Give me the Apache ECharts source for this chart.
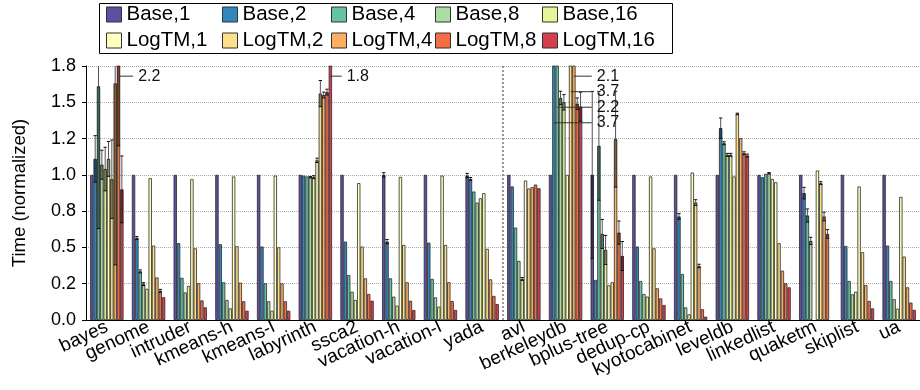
<!DOCTYPE html>
<html><head><meta charset="utf-8">
<script src="https://cdn.jsdelivr.net/npm/echarts@6/dist/echarts.min.js"></script>
<style>html,body{margin:0;padding:0;background:#fff}#c{width:920px;height:390px}</style>
</head><body><div id="c"></div>
<script>
const categories = ['bayes','genome','intruder','kmeans-h','kmeans-l','labyrinth','ssca2','vacation-h','vacation-l','yada','avl','berkeleydb','bplus-tree','dedup-cp','kyotocabinet','leveldb','linkedlist','quaketm','skiplist','ua'];
const seriesNames = ['Base,1','Base,2','Base,4','Base,8','Base,16','LogTM,1','LogTM,2','LogTM,4','LogTM,8','LogTM,16'];

const base1   = [1.0,1.0,1.0,1.0,1.0,1.0,1.0,1.0,1.0,0.995,1.0,1.0,1.0,1.0,1.0,1.0,1.0,1.0,1.0,1.0];
const base2   = [1.11,0.565,0.53,0.522,0.506,0.995,0.54,0.54,0.533,0.972,0.92,3.7,0.276,0.506,0.713,1.322,0.984,0.874,0.51,0.513];
const base4   = [1.61,0.335,0.291,0.26,0.253,0.989,0.31,0.287,0.283,0.885,0.637,2.2,1.2,0.269,0.317,1.218,1.007,0.72,0.269,0.269];
const base8   = [1.07,0.247,0.19,0.138,0.129,0.984,0.195,0.161,0.156,0.809,0.407,1.53,0.593,0.179,0.087,1.138,1.011,0.545,0.177,0.143];
const base16  = [1.04,0.215,0.235,0.08,0.064,0.984,0.138,0.099,0.092,0.839,0.283,1.50,0.483,0.161,0.039,1.138,0.972,null,0.195,0.078];
const logtm1  = [1.11,0.977,0.97,0.989,0.995,1.10,0.943,0.986,0.995,0.874,0.961,1.0,0.239,0.989,1.016,0.989,0.949,1.03,0.92,0.848];
const logtm2  = [0.97,0.513,0.494,0.508,0.501,1.56,0.506,0.517,0.517,0.49,0.906,3.7,0.26,0.494,0.809,1.42,0.529,0.943,0.467,0.437];
const logtm4  = [1.63,0.293,0.253,0.257,0.253,1.55,0.287,0.26,0.26,0.28,0.915,2.1,1.246,0.218,0.372,1.253,0.34,0.713,0.241,0.225];
const logtm8  = [2.2,0.201,0.135,0.129,0.129,1.57,0.179,0.133,0.131,0.166,0.933,1.49,0.602,0.149,0.074,1.149,0.253,0.593,0.131,0.12];
const logtm16 = [0.90,0.157,0.087,0.064,0.064,1.8,0.133,0.069,0.069,0.11,0.908,1.47,0.441,0.103,0.023,1.133,0.225,null,0.08,0.07];

const base1Err   = [0,0,0,0,0,0,0,0.015,0,0.015,0,0,0.575,0,0,0,0,0,0,0];
const base2Err   = [0.16,0.01,0,0,0,0,0,0.015,0,0.01,0,0,0,0,0.02,0.07,0,0.04,0,0];
const base4Err   = [0.98,0.01,0,0,0,0,0,0,0,0,0,0,0.375,0,0,0.01,0,0.045,0,0];
const base8Err   = [0.1,0.01,0,0,0,0.005,0,0,0,0,0,0.046,0.1,0,0,0.01,0.005,0.025,0,0];
const base16Err  = [0.15,0,0,0,0,0.01,0,0,0,0,0.01,0.053,0.1,0,0,0.01,0,0,0,0];
const logtm1Err  = [0.12,0,0,0,0,0.015,0,0,0,0,0,0,0,0,0,0,0,0,0,0];
const logtm2Err  = [0.27,0,0,0,0,0.09,0,0,0,0,0,0,0,0,0.02,0.005,0,0.01,0,0];
const logtm4Err  = [1.25,0,0,0,0,0.02,0,0,0,0,0,0,0.33,0,0.012,0,0,0.03,0,0];
const logtm8Err  = [1.0,0.01,0,0,0,0.02,0,0,0,0,0,0.04,0.08,0,0,0.01,0,0.03,0,0];
const logtm16Err = [0.23,0,0,0,0,0,0,0,0,0,0,0.1,0.1,0,0,0.01,0,0,0,0];

const yTickLabels = ['0.0','0.2','0.5','0.8','1.0','1.2','1.5','1.8'];
const separatorBetween = [9, 10];

const values = [base1,base2,base4,base8,base16,logtm1,logtm2,logtm4,logtm8,logtm16];
const errors = [base1Err,base2Err,base4Err,base8Err,base16Err,logtm1Err,logtm2Err,logtm4Err,logtm8Err,logtm16Err];
const colors = ['#5e4fa2','#3288bd','#66c2a5','#abdda4','#e6f598','#ffffbf','#fee08b','#fdae61','#f46d43','#d53e4f'];
const YMAX = 1.75, YINT = 0.25;
const FONT = "'Liberation Sans', Arial, Helvetica, sans-serif";
const legendColumnsX = [106, 222, 331, 435, 542];

const chart = echarts.init(document.getElementById('c'), null, {renderer: 'canvas'});

function barPos(api, c, s) {
  const band = api.size([1, 0])[0];
  const w = band * 0.8 / 10;
  const cx = api.coord([c, 0])[0];
  return {x: cx + (s - 4.5) * w, w: w, band: band, cx: cx};
}

const barSeries = seriesNames.map((name, i) => ({
  name: name, type: 'bar', data: values[i],
  barGap: '0%', barCategoryGap: '20%',
  itemStyle: {color: colors[i], borderColor: '#2a2a2a', borderWidth: 0.8},
  emphasis: {disabled: true}, z: 2
}));

const errData = [];
errors.forEach((arr, s) => arr.forEach((e, c) => {
  if (e > 0 && values[s][c] != null) errData.push([c, values[s][c], s, e]);
}));

const annData = [];
categories.forEach((cat, c) => {
  const clipped = [];
  values.forEach((arr, s) => { if (arr[c] != null && arr[c] > YMAX) clipped.push(s); });
  clipped.forEach((s, k) => annData.push([c, values[s][c], s, clipped.length - 1 - k]));
});

const errSeries = {
  type: 'custom', data: errData, z: 5, silent: true,
  encode: {x: 0, y: 1},
  renderItem: function (params, api) {
    const c = api.value(0), v = api.value(1), s = api.value(2), e = api.value(3);
    const p = barPos(api, c, s);
    const top = Math.min(v, YMAX);
    const hi = Math.min(v + e, YMAX);
    const lo = Math.max(v - e, 0);
    const yTop = api.coord([c, top])[1], yHi = api.coord([c, hi])[1], yLo = api.coord([c, lo])[1];
    const ch = [];
    if (lo < top) ch.push({type: 'rect', shape: {x: p.x - p.w * 0.4, y: yTop, width: p.w * 0.8, height: yLo - yTop}, style: {fill: 'rgba(0,0,0,0.45)'}});
    if (hi > top) ch.push({type: 'line', shape: {x1: p.x, y1: yHi, x2: p.x, y2: yTop}, style: {stroke: 'rgba(40,40,40,0.8)', lineWidth: 1}});
    if (v + e <= YMAX) ch.push({type: 'line', shape: {x1: p.x - p.w / 2, y1: yHi, x2: p.x + p.w / 2, y2: yHi}, style: {stroke: '#111', lineWidth: 1}});
    ch.push({type: 'line', shape: {x1: p.x - p.w / 2, y1: yLo, x2: p.x + p.w / 2, y2: yLo}, style: {stroke: '#111', lineWidth: 1}});
    return {type: 'group', children: ch};
  }
};

const annSeries = {
  type: 'custom', data: annData, z: 6, silent: true,
  encode: {x: 0, y: 1},
  renderItem: function (params, api) {
    const c = api.value(0), v = api.value(1), s = api.value(2), k = api.value(3);
    const p = barPos(api, c, s);
    const tx = p.cx + p.band * 0.75;
    const y = api.coord([c, YMAX - 0.07 - k * 0.107])[1];
    return {type: 'group', children: [
      {type: 'line', shape: {x1: p.x, y1: y, x2: tx - 5, y2: y}, style: {stroke: '#333', lineWidth: 1}},
      {type: 'text', x: tx, y: y, style: {text: v.toFixed(1), fontSize: 16, fontFamily: FONT, fill: '#111', align: 'left', verticalAlign: 'middle'}}
    ]};
  }
};

const sepSeries = {
  type: 'custom', data: [[separatorBetween[0], 0, separatorBetween[1]]], z: 1, silent: true,
  encode: {x: 0, y: 1},
  renderItem: function (params, api) {
    const x = (api.coord([api.value(0), 0])[0] + api.coord([api.value(2), 0])[0]) / 2;
    const y0 = api.coord([0, 0])[1], y1 = api.coord([0, YMAX])[1];
    return {type: 'line', shape: {x1: x, y1: y0, x2: x, y2: y1}, style: {stroke: '#777', lineWidth: 1.5, lineDash: [2, 2]}};
  }
};

const legends = legendColumnsX.map((lx, i) => ({
  data: [seriesNames[i], seriesNames[i + 5]],
  orient: 'vertical', left: lx, top: 4, padding: 0,
  itemWidth: 15, itemHeight: 15, itemGap: 5,
  icon: 'rect', selectedMode: false,
  itemStyle: {borderColor: '#333', borderWidth: 1},
  textStyle: {fontSize: 20.5, fontFamily: FONT, color: '#000', lineHeight: 20}
}));

chart.setOption({
  animation: false,
  textStyle: {fontFamily: FONT},
  grid: {left: 86, right: -12, top: 66, bottom: 70, containLabel: false},
  graphic: [{type: 'rect', left: 99, top: 3, shape: {x: 0, y: 0, width: 573, height: 50}, style: {fill: '#fff', stroke: '#000', lineWidth: 1}, z: 0, silent: true}],
  legend: legends,
  xAxis: {
    type: 'category', data: categories,
    axisLine: {lineStyle: {color: '#000', width: 1}},
    axisTick: {alignWithLabel: true, length: 8, lineStyle: {color: '#888'}},
    axisLabel: {interval: 0, rotate: 25, fontSize: 19, color: '#000', margin: 6, fontFamily: FONT},
    splitLine: {show: false}
  },
  yAxis: {
    type: 'value', min: 0, max: YMAX, interval: YINT,
    name: 'Time (normalized)', nameLocation: 'middle', nameGap: 57,
    nameTextStyle: {fontSize: 18.5, color: '#000', fontFamily: FONT},
    axisLine: {show: true, lineStyle: {color: '#000', width: 1}},
    axisTick: {show: true, length: 4, lineStyle: {color: '#000'}},
    axisLabel: {fontSize: 18, color: '#000', margin: 10, fontFamily: FONT,
      formatter: function (v) { return yTickLabels[Math.round(v / YINT)]; }},
    splitLine: {show: true, lineStyle: {type: 'dotted', color: '#aaa', width: 1}}
  },
  series: barSeries.concat([sepSeries, errSeries, annSeries])
});
</script>
</body></html>
